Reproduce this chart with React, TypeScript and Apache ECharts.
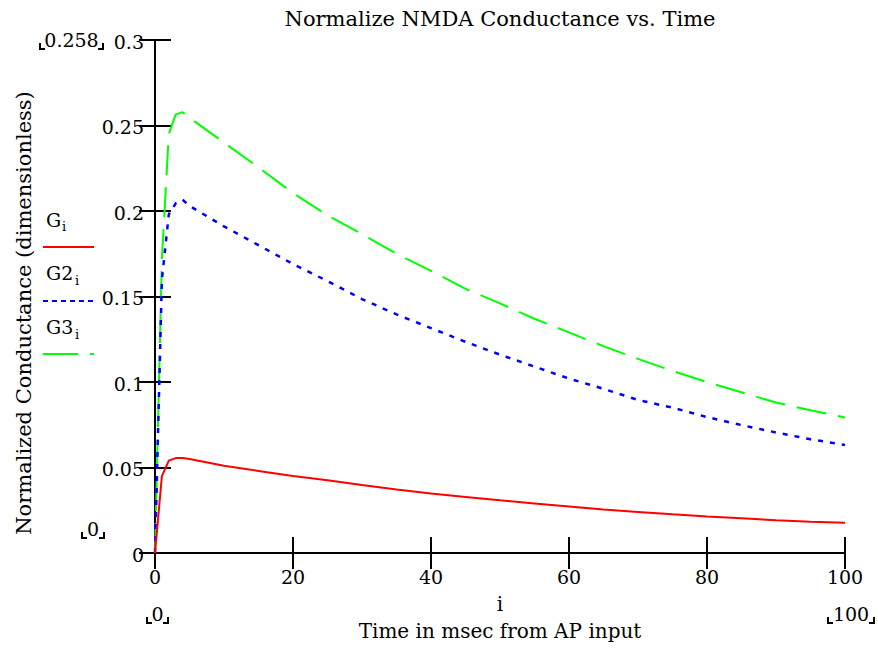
import React, { useEffect, useRef } from "react";
import * as echarts from "echarts";

// time samples (msec)
const T = [0, 1, 2, 3, 4, 5, 10, 15, 20, 25, 30, 35, 40, 45, 50, 55, 60, 65, 70, 75, 80, 85, 90, 95, 100];
// G_i (red)
const G = [0, 0.045, 0.054, 0.0555, 0.0555, 0.055, 0.051, 0.048, 0.045, 0.0425, 0.0398, 0.0372, 0.0348, 0.0328, 0.0308, 0.029, 0.0272, 0.0254, 0.024, 0.0226, 0.0214, 0.0203, 0.0192, 0.0183, 0.0177];
// G2_i (blue)
const G2 = [0, 0.16, 0.198, 0.2045, 0.2066, 0.203, 0.191, 0.18, 0.169, 0.159, 0.1485, 0.1395, 0.1315, 0.1235, 0.116, 0.109, 0.102, 0.096, 0.0895, 0.085, 0.0795, 0.0748, 0.0705, 0.0665, 0.0632];
// G3_i (green)
const G3 = [0, 0.172, 0.245, 0.2565, 0.2578, 0.2545, 0.24, 0.2255, 0.2105, 0.1975, 0.1865, 0.175, 0.165, 0.1545, 0.146, 0.137, 0.129, 0.121, 0.1135, 0.1065, 0.1, 0.094, 0.088, 0.0835, 0.0793];

const TITLE = "Normalize NMDA Conductance vs. Time";
const X_TITLE = "Time in msec from AP input";
const X_VAR = "i";
const Y_TITLE = "Normalized Conductance (dimensionless)";
const LEGEND = [
  { name: "G", sub: "i" },
  { name: "G2", sub: "i" },
  { name: "G3", sub: "i" },
];
const MARKERS = ["0.258", "0", "0", "100"];

const FONT = "DejaVu Serif";

function bracket(x1: number, x2: number, y1: number, y2: number) {
  const st = { stroke: "#000", lineWidth: 2, fill: "none" };
  return [
    { type: "polyline", shape: { points: [[x1, y1], [x1, y2], [x1 + 5, y2]] }, style: st },
    { type: "polyline", shape: { points: [[x2, y1], [x2, y2], [x2 - 5, y2]] }, style: st },
  ];
}

export default function App() {
  const ref = useRef<HTMLDivElement>(null);
  useEffect(() => {
    if (!ref.current) return;
    const chart = echarts.init(ref.current, undefined, { renderer: "svg" });
    const txt = (text: string, x: number, y: number, size: number, align = "center", extra: any = {}) => ({
      type: "text",
      x,
      y,
      style: { text, fill: "#000", fontFamily: FONT, fontSize: size, align, verticalAlign: "middle" },
      ...extra,
    });
    const axisLabel = { color: "#000", fontFamily: FONT, fontSize: 19 };
    const tickStyle = { show: true, inside: true, length: 16, lineStyle: { color: "#000", width: 2 } };
    const lineStyle = { show: true, lineStyle: { color: "#000", width: 2 } };
    const option: any = {
      animation: false,
      textStyle: { fontFamily: FONT },
      grid: { left: 155, right: 33, top: 40, bottom: 103 },
      xAxis: [
        {
          type: "value", min: 0, max: 100, interval: 20, position: "bottom",
          axisLine: lineStyle, axisTick: tickStyle, splitLine: { show: false },
          axisLabel: { ...axisLabel, margin: 14 },
        },
        {
          type: "value", min: 0, max: 100, interval: 20, position: "top",
          axisLine: lineStyle, axisTick: tickStyle, splitLine: { show: false },
          axisLabel: { show: false },
        },
      ],
      yAxis: [
        {
          type: "value", min: 0, max: 0.3, interval: 0.05, position: "left",
          axisLine: lineStyle, axisTick: tickStyle, splitLine: { show: false },
          axisLabel: { ...axisLabel, margin: 11, verticalAlign: "top", padding: [-8, 0, 0, 0] },
        },
        {
          type: "value", min: 0, max: 0.3, interval: 0.05, position: "right",
          axisLine: lineStyle, axisTick: tickStyle, splitLine: { show: false },
          axisLabel: { show: false },
        },
      ],
      series: [
        {
          name: "G3", type: "line", showSymbol: false, z: 3,
          data: T.map((t, i) => [t, G3[i]]),
          lineStyle: { color: "#00ff00", width: 2, type: [30, 12] },
        },
        {
          name: "G2", type: "line", showSymbol: false, z: 4,
          data: T.map((t, i) => [t, G2[i]]),
          lineStyle: { color: "#0000ff", width: 2.5, type: [5, 7] },
        },
        {
          name: "G", type: "line", showSymbol: false, z: 5,
          data: T.map((t, i) => [t, G[i]]),
          lineStyle: { color: "#ff0000", width: 2 },
        },
      ],
      graphic: [
        txt(TITLE, 500, 19, 21),
        txt(X_VAR, 500, 604, 20),
        txt(X_TITLE, 500, 631, 20),
        txt(Y_TITLE, 24, 313, 21, "center", { rotation: Math.PI / 2 }),
        // legend
        txt(LEGEND[0].name, 46, 220, 19, "left"),
        txt(LEGEND[0].sub, 62, 226, 13, "left"),
        { type: "line", shape: { x1: 43, y1: 247, x2: 94, y2: 247 }, style: { stroke: "#ff0000", lineWidth: 2 } },
        txt(LEGEND[1].name, 46, 273, 19, "left"),
        txt(LEGEND[1].sub, 75, 280, 13, "left"),
        { type: "line", shape: { x1: 43, y1: 301, x2: 94, y2: 301 }, style: { stroke: "#0000ff", lineWidth: 2, lineDash: [5, 4] } },
        txt(LEGEND[2].name, 46, 327, 19, "left"),
        txt(LEGEND[2].sub, 75, 334, 13, "left"),
        { type: "line", shape: { x1: 43, y1: 354, x2: 94, y2: 354 }, style: { stroke: "#00ff00", lineWidth: 2, lineDash: [35, 12] } },
        // limit markers
        txt(MARKERS[0], 71.5, 40, 19),
        ...bracket(40, 103, 43, 49),
        txt(MARKERS[1], 93, 529, 19),
        ...bracket(82, 104, 532, 538),
        txt(MARKERS[2], 157.5, 614, 19),
        ...bracket(147, 168, 617, 623),
        txt(MARKERS[3], 851, 614, 19),
        ...bracket(828, 874, 617, 623),
      ],
    };
    chart.setOption(option);
    return () => chart.dispose();
  }, []);
  return (
    <div
      ref={ref}
      style={{ position: "fixed", left: 0, top: 0, width: 878, height: 656, background: "#fff" }}
    />
  );
}
